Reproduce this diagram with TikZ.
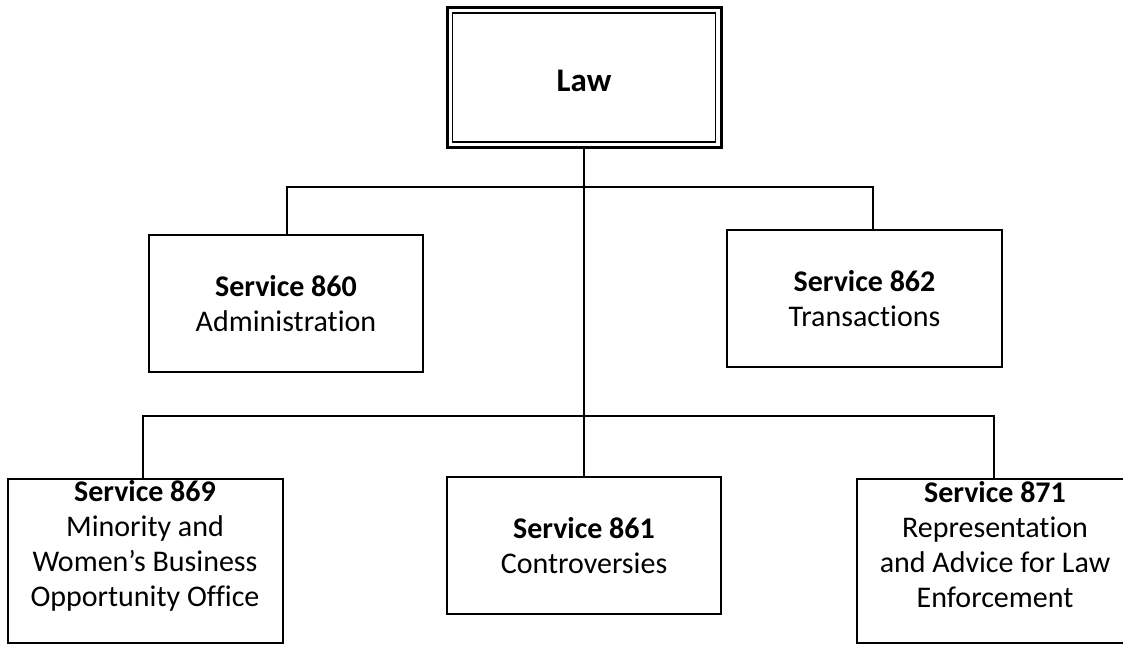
\documentclass[tikz,border=0pt]{standalone}
\usepackage{fontspec}
\setmainfont[Ligatures=NoCommon]{Carlito}
\begin{document}
\begin{tikzpicture}[x=1pt,y=-1pt,
  box/.style={draw, line width=1.4pt, rectangle, inner sep=0pt, outer sep=0pt,
    align=center, font=\fontsize{30}{35}\selectfont},
  txt/.style={inner sep=0pt, outer sep=0pt, align=center, font=\fontsize{30}{35}\selectfont},
  conn/.style={line width=1.4pt}]
\useasboundingbox (0,0) rectangle (1123,646);
\clip (0,0) rectangle (1123,646);
% top box
\node[box, line width=3pt, minimum width=274pt, minimum height=140pt] (law) at (584,77.5) {};
\draw[line width=1.5pt] ([shift={(5.5pt,-5.5pt)}]law.north west) rectangle ([shift={(-5.5pt,5.5pt)}]law.south east);
\node[txt, font=\fontsize{33}{38}\selectfont\bfseries] (lawt) at (584,80.5) {Law};
% second level
\node[box, minimum width=274pt, minimum height=137pt] (s860) at (286,303.5)
  {\textbf{Service 860}\\Administration};
\node[box, minimum width=275pt, minimum height=137pt] (s862) at (864.5,298.5)
  {\textbf{Service 862}\\Transactions};
% third level
\node[box, minimum width=274pt, minimum height=137pt] (s861) at (584,545.5)
  {\textbf{Service 861}\\Controversies};
\node[box, minimum width=275pt, minimum height=164pt] (s869) at (145.5,561) {};
\node[txt] (t869) at (145,546) 
  {\textbf{Service 869}\\Minority and\\Women’s Business\\Opportunity Office};
\node[box, minimum width=278pt, minimum height=164pt] (s871) at (996,561) {};
\node[txt] (t871) at (995,545)
  {\textbf{Service 871}\\Representation\\and Advice for Law\\Enforcement};
% connectors
\coordinate (jt) at (584,187);
\coordinate (jb) at (584,416);
\coordinate (e860) at (287,235);
\coordinate (e862) at (873,230);
\coordinate (e869) at (143,479);
\coordinate (e871) at (994,479);
\draw[conn] (law.south) -- (s861.north);
\draw[conn] (e860) |- (jt) -| (e862);
\draw[conn] (e869) |- (jb) -| (e871);
\end{tikzpicture}
\end{document}
